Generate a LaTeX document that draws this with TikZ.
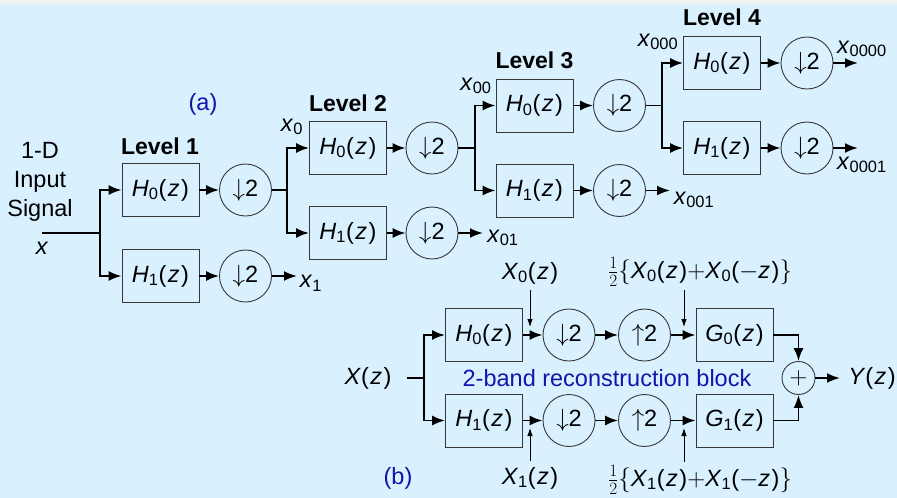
\documentclass[tikz,border=0pt]{standalone}
\usepackage{fontspec}
\setmainfont{Liberation Sans}
\usetikzlibrary{positioning,arrows.meta}
\definecolor{bgblue}{RGB}{217,241,255}
\definecolor{bggray}{RGB}{240,240,240}
\definecolor{capblue}{RGB}{20,20,170}
\definecolor{edgegray}{RGB}{55,55,55}
\newcommand{\fz}[2]{\textit{#1}\textsubscript{#2}(\kern1.5pt\textit{z}\kern1.5pt)}
\newcommand{\fmz}[2]{\textit{#1}\textsubscript{#2}($-$\textit{z}\kern1.5pt)}
\newcommand{\sx}[1]{\textit{x}\textsubscript{#1}}
\newcommand{\dsamp}{$\downarrow$2}
\newcommand{\usamp}{$\uparrow$2}
\begin{document}
\begin{tikzpicture}[x=1pt,y=-1pt,
  font=\fontsize{23.5}{29}\selectfont,
  filt/.style={draw=edgegray,line width=0.9pt,minimum width=77pt,minimum height=53pt,inner sep=0pt},
  rate/.style={draw=edgegray,line width=0.9pt,circle,minimum size=52pt,inner sep=0pt},
  sumnode/.style={draw=edgegray,line width=0.9pt,circle,minimum size=33pt,inner sep=0pt},
  wire/.style={line width=1.9pt},
  sig/.style={wire,-{Latex[length=13pt,width=10pt]}},
  tap/.style={line width=0.8pt,-{Latex[length=8pt,width=5.5pt]}},
  title/.style={font=\fontsize{23}{29}\selectfont\bfseries},
  captxt/.style={text=capblue}
]
\fill[bggray] (0,0) rectangle (897,4);
\fill[bgblue] (0,4) rectangle (897,498);
\useasboundingbox (0,0) rectangle (897,498);

% (a) four-level decomposition
\node[align=center] (src) at (40,182) {1-D\\Input\\Signal};
\node (srcx) at (42,248) {\textit{x}};
\coordinate (in) at (42,233);
\coordinate (j0) at (100,233);

\node[title] (lv1) at (160,146) {Level 1};
\node[filt] (h10) at (160.5,190) {\fz{H}{0}};
\node[filt] (h11) at (160.5,276) {\fz{H}{1}};
\node[rate] (d10) at (245.5,190) {\dsamp};
\node[rate] (d11) at (245.5,276) {\dsamp};
\coordinate (j1) at (287,190);

\node[title] (lv2) at (348,103) {Level 2};
\node[filt] (h20) at (348,148) {\fz{H}{0}};
\node[filt] (h21) at (348,233) {\fz{H}{1}};
\node[rate] (d20) at (432,148) {\dsamp};
\node[rate] (d21) at (432,233) {\dsamp};
\coordinate (j2) at (475,148);

\node[title] (lv3) at (534.5,60) {Level 3};
\node[filt] (h30) at (534.5,105.5) {\fz{H}{0}};
\node[filt] (h31) at (534.5,190.5) {\fz{H}{1}};
\node[rate] (d30) at (619.5,105.5) {\dsamp};
\node[rate] (d31) at (619.5,190.5) {\dsamp};
\coordinate (j3) at (662,105.5);

\node[title] (lv4) at (722,17) {Level 4};
\node[filt] (h40) at (722,63) {\fz{H}{0}};
\node[filt] (h41) at (722,148) {\fz{H}{1}};
\node[rate] (d40) at (807,63) {\dsamp};
\node[rate] (d41) at (807,148) {\dsamp};

\node[captxt] (capa) at (203,104) {(a)};

\coordinate (o1) at (297,276);
\coordinate (o01) at (483,233);
\coordinate (o001) at (670,190.5);
\coordinate (o0000) at (858,63);
\coordinate (o0001) at (858,148);

\node (lx0) at (292,127) {\sx{0}};
\node (lx1) at (311,283) {\sx{1}};
\node (lx00) at (476,86) {\sx{00}};
\node (lx01) at (503,238) {\sx{01}};
\node (lx000) at (658,42) {\sx{000}};
\node (lx001) at (694,200) {\sx{001}};
\node (lx0000) at (862,49) {\sx{0000}};
\node (lx0001) at (862,165) {\sx{0001}};

\draw[wire] (in) -- (j0);
\draw[sig] (j0) |- (h10.west);
\draw[sig] (j0) |- (h11.west);
\draw[sig] (h10) -- (d10);
\draw[sig] (h11) -- (d11);
\draw[sig] (d11) -- (o1);
\draw[wire] (d10) -- (j1);
\draw[sig] (j1) |- (h20.west);
\draw[sig] (j1) |- (h21.west);
\draw[sig] (h20) -- (d20);
\draw[sig] (h21) -- (d21);
\draw[sig] (d21) -- (o01);
\draw[wire] (d20) -- (j2);
\draw[sig] (j2) |- (h30.west);
\draw[sig] (j2) |- (h31.west);
\draw[sig] (h30) -- (d30);
\draw[sig] (h31) -- (d31);
\draw[sig] (d31) -- (o001);
\draw[wire] (d30) -- (j3);
\draw[sig] (j3) |- (h40.west);
\draw[sig] (j3) |- (h41.west);
\draw[sig] (h40) -- (d40);
\draw[sig] (h41) -- (d41);
\draw[sig] (d40) -- (o0000);
\draw[sig] (d41) -- (o0001);

% (b) two-band analysis/synthesis
\node (xz) at (368,378) {\textit{X}(\kern1.5pt\textit{z}\kern1.5pt)};
\coordinate (xin) at (407,378);
\coordinate (jb) at (424,378);
\node[filt] (bh0) at (484,335) {\fz{H}{0}};
\node[filt] (bh1) at (484,420.5) {\fz{H}{1}};
\node[rate] (bd0) at (569,335) {\dsamp};
\node[rate] (bd1) at (569,420.5) {\dsamp};
\node[rate] (bu0) at (644.5,335) {\usamp};
\node[rate] (bu1) at (644.5,420.5) {\usamp};
\node[filt] (bg0) at (734.5,335) {\fz{G}{0}};
\node[filt] (bg1) at (734.5,420.5) {\fz{G}{1}};
\node[sumnode] (sum) at (798.5,378) {$+$};
\coordinate (yout) at (840,378);
\node (yz) at (872,378) {\textit{Y}(\kern1.5pt\textit{z}\kern1.5pt)};
\node[captxt] (blk) at (607,378) {2-band reconstruction block};
\node[captxt] (capb) at (398,478) {(b)};

\node (lX0) at (530,273) {\fz{X}{0}};
\node (lX1) at (530,478) {\fz{X}{1}};
\node (lA0) at (700,272) {$\frac{1}{2}\{$\fz{X}{0}$+$\fmz{X}{0}$\}$};
\node (lA1) at (700,480) {$\frac{1}{2}\{$\fz{X}{1}$+$\fmz{X}{1}$\}$};
\coordinate (k0) at (530,327);
\coordinate (k1) at (530,428);
\coordinate (k2) at (684,327);
\coordinate (k3) at (684,428);

\draw[wire] (xin) -- (jb);
\draw[sig] (jb) |- (bh0.west);
\draw[sig] (jb) |- (bh1.west);
\draw[sig] (bh0) -- (bd0);
\draw[sig] (bd0) -- (bu0);
\draw[sig] (bu0) -- (bg0);
\draw[sig] (bh1) -- (bd1);
\draw[sig] (bd1) -- (bu1);
\draw[sig] (bu1) -- (bg1);
\draw[sig] (bg0.east) -| (sum.north);
\draw[sig] (bg1.east) -| (sum.south);
\draw[sig] (sum) -- (yout);
\draw[tap,shorten <=3pt] (lX0.south) -- (k0);
\draw[tap,shorten <=3pt] (lX1.north) -- (k1);
\draw[tap] (lA0.south -| k2) -- (k2);
\draw[tap] (lA1.north -| k3) -- (k3);
\end{tikzpicture}
\end{document}
